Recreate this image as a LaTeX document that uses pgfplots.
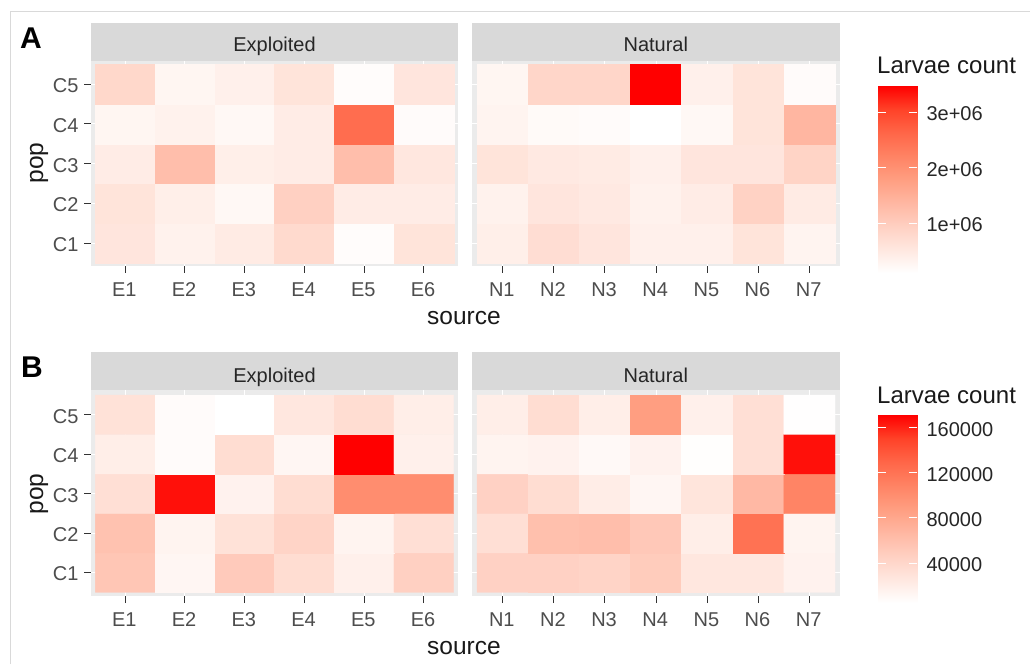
\documentclass[border=0pt]{standalone}
\usepackage{fontspec}
\setmainfont{Liberation Sans}
\usepackage{pgfplots}
\pgfplotsset{compat=1.18}
\definecolor{stripg}{HTML}{D9D9D9}
\definecolor{panelg}{HTML}{EBEBEB}
\definecolor{ticktxt}{HTML}{4D4D4D}
\definecolor{tickln}{HTML}{333333}
\tikzset{lefttick/.style={white,line width=0.9pt}}
\pgfplotsset{
  colormap={wr}{rgb255=(255,255,255) rgb255=(255,232,224) rgb255=(255,208,194) rgb255=(255,183,162) rgb255=(255,158,129) rgb255=(255,131,100) rgb255=(255,102,72) rgb255=(255,66,40) rgb255=(255,0,0)},
  facet/.style={
    scale only axis, colormap name=wr,
    axis line style={draw=none},
    axis background/.style={fill=panelg},
    grid=major, grid style={white,line width=0.9pt},
    tick align=outside, tick pos=left,
    major tick length=7pt,
    tick style={tickln,line width=0.9pt},
    xtick=data, ytick={1,2,3,4,5},
    font=\fontsize{20}{20}\selectfont,
    tick label style={text=ticktxt,font=\fontsize{20}{20}\selectfont},
    xticklabel style={yshift=-6pt,xshift=-0.8pt},
    yticklabel style={xshift=-2pt,yshift=-1.5pt},
  },
  bar/.style={
    scale only axis, colormap name=wr,
    axis line style={draw=none}, axis on top,
    xmin=0, xmax=1, xtick=\empty,
    tick align=inside, yticklabel pos=right, ytick pos=right,
    scaled y ticks=false,
    major tick length=8pt, tick style={white,line width=0.9pt},
    tick label style={text=black!85,font=\fontsize{20}{20}\selectfont},
    yticklabel style={xshift=6pt,yshift=-2pt},
    clip=false,
  },
}
\begin{document}
\begin{tikzpicture}[x=1pt,y=1pt]
\path[use as bounding box] (0,0) rectangle (1030,664);
\draw[stripg,line width=0.8pt] (10.5,0) -- (10.5,652.5) -- (1030,652.5);

% strips
\fill[stripg] (91,603) rectangle (458,641);
\fill[stripg] (471.6,603) rectangle (840,641);
\fill[stripg] (91,274) rectangle (458,312);
\fill[stripg] (471.6,274) rectangle (840,312);
\node[text=black!85,font=\fontsize{20}{20}\selectfont,anchor=base] at (274.5,612) {Exploited};
\node[text=black!85,font=\fontsize{20}{20}\selectfont,anchor=base] at (655.8,612) {Natural};
\node[text=black!85,font=\fontsize{20}{20}\selectfont,anchor=base] at (274.5,281.5) {Exploited};
\node[text=black!85,font=\fontsize{20}{20}\selectfont,anchor=base] at (655.8,281.5) {Natural};

% Panel A, Exploited
\begin{axis}[facet, at={(91pt,398pt)}, anchor=south west, width=367pt, height=205pt,
  xmin=0.428, xmax=6.572, ymin=0.4245, ymax=5.583,
  point meta min=100000, point meta max=3470000,
  xticklabels={E1,E2,E3,E4,E5,E6}, yticklabels={C1,C2,C3,C4,C5}]
\addplot[matrix plot*, mesh/cols=6, point meta=explicit] table[x=s,y=p,meta=v] {
s p v
1 1 570000
2 1 340000
3 1 470000
4 1 770000
5 1 150000
6 1 600000
1 2 600000
2 2 400000
3 2 230000
4 2 940000
5 2 440000
6 2 440000
1 3 440000
2 3 1250000
3 3 400000
4 3 440000
5 3 1250000
6 3 540000
1 4 270000
2 4 340000
3 4 230000
4 4 440000
5 4 2530000
6 4 170000
1 5 810000
2 5 270000
3 5 370000
4 5 600000
5 5 150000
6 5 570000
};
\end{axis}

% Panel A, Natural
\begin{axis}[facet, at={(471.6pt,398pt)}, anchor=south west, width=368.4pt, height=205pt,
  xmin=0.394, xmax=7.598, ymin=0.4245, ymax=5.583,
  point meta min=100000, point meta max=3470000,
  xticklabels={N1,N2,N3,N4,N5,N6,N7}, yticklabels={},
  y tick style={draw=none}]
\addplot[matrix plot*, mesh/cols=7, point meta=explicit] table[x=s,y=p,meta=v] {
s p v
1 1 400000
2 1 710000
3 1 570000
4 1 370000
5 1 370000
6 1 600000
7 1 300000
1 2 340000
2 2 570000
3 2 500000
4 2 340000
5 2 440000
6 2 910000
7 2 470000
1 3 600000
2 3 500000
3 3 470000
4 3 370000
5 3 570000
6 3 570000
7 3 880000
1 4 300000
2 4 200000
3 4 170000
4 4 100000
5 4 230000
6 4 600000
7 4 1380000
1 5 270000
2 5 840000
3 5 840000
4 5 3470000
5 5 370000
6 5 600000
7 5 170000
};
\end{axis}

% Panel B, Exploited
\begin{axis}[facet, at={(91pt,68pt)}, anchor=south west, width=367pt, height=206pt,
  xmin=0.428, xmax=6.572, ymin=0.406, ymax=5.627,
  point meta min=4700, point meta max=171000,
  xticklabels={E1,E2,E3,E4,E5,E6}, yticklabels={C1,C2,C3,C4,C5}]
\addplot[matrix plot*, mesh/cols=6, point meta=explicit] table[x=s,y=p,meta=v] {
s p v
1 1 55000
2 1 13000
3 1 51000
4 1 35000
5 1 18000
6 1 46000
1 2 58000
2 2 15000
3 2 31000
4 2 43000
5 2 15000
6 2 33000
1 3 33000
2 3 166000
3 3 16000
4 3 35000
5 3 101000
6 3 101000
1 4 20000
2 4 8000
3 4 35000
4 4 13000
5 4 171000
6 4 18000
1 5 31000
2 5 8000
3 5 4700
4 5 26000
5 5 35000
6 5 20000
};
\end{axis}

% Panel B, Natural
\begin{axis}[facet, at={(471.6pt,68pt)}, anchor=south west, width=368.4pt, height=206pt,
  xmin=0.394, xmax=7.598, ymin=0.406, ymax=5.627,
  point meta min=4700, point meta max=171000,
  xticklabels={N1,N2,N3,N4,N5,N6,N7}, yticklabels={},
  y tick style={draw=none}]
\addplot[matrix plot*, mesh/cols=7, point meta=explicit] table[x=s,y=p,meta=v] {
s p v
1 1 45000
2 1 45000
3 1 43000
4 1 50000
5 1 26000
6 1 26000
7 1 16000
1 2 33000
2 2 60000
3 2 61000
4 2 53000
5 2 20000
6 2 121000
7 2 15000
1 3 45000
2 3 35000
3 3 21000
4 3 13000
5 3 28000
6 3 66000
7 3 108000
1 4 15000
2 4 16000
3 4 10000
4 4 16000
5 4 6000
6 4 33000
7 4 166000
1 5 20000
2 5 35000
3 5 20000
4 5 88000
5 5 18000
6 5 33000
7 5 5500
};
\end{axis}

% Colour bars
\begin{axis}[bar, at={(878pt,391pt)}, anchor=south west, width=39pt, height=187pt,
  ymin=100000, ymax=3470000, ytick={1000000,2000000,3000000},
  yticklabels={1e+06,2e+06,3e+06}]
\addplot[surf, shader=interp, mesh/rows=2, mesh/cols=2, point meta=y] table[x=a,y=b] {
a b
0 100000
1 100000
0 3470000
1 3470000
};
\end{axis}
\begin{axis}[bar, at={(878pt,61pt)}, anchor=south west, width=39pt, height=188pt,
  ymin=4700, ymax=171000, ytick={40000,80000,120000,160000},
  yticklabels={40000,80000,120000,160000}]
\addplot[surf, shader=interp, mesh/rows=2, mesh/cols=2, point meta=y] table[x=a,y=b] {
a b
0 4700
1 4700
0 171000
1 171000
};
\end{axis}

% left-hand ticks of the colour bars
\foreach \yy in {440.9,496.4,551.9,100.9,146.1,191.3,236.6}
  \draw[lefttick] (878,\yy) -- (886,\yy);

% Titles
\node[font=\fontsize{24.5}{24.5}\selectfont,text=black!90] at (464,346) {source};
\node[font=\fontsize{24.5}{24.5}\selectfont,text=black!90] at (464,15.5) {source};
\node[font=\fontsize{24.5}{24.5}\selectfont,text=black!90,rotate=90] at (39,501) {pop};
\node[font=\fontsize{24.5}{24.5}\selectfont,text=black!90,rotate=90] at (39,170) {pop};
\node[font=\fontsize{24}{24}\selectfont,text=black!90,anchor=west,inner sep=0pt] at (877,599) {Larvae count};
\node[font=\fontsize{24}{24}\selectfont,text=black!90,anchor=west,inner sep=0pt] at (877,269) {Larvae count};
\node[font=\bfseries\fontsize{30}{30}\selectfont,anchor=center,inner sep=0pt] at (31,626) {A};
\node[font=\bfseries\fontsize{30}{30}\selectfont,anchor=center,inner sep=0pt] at (32,297) {B};
\end{tikzpicture}
\end{document}
